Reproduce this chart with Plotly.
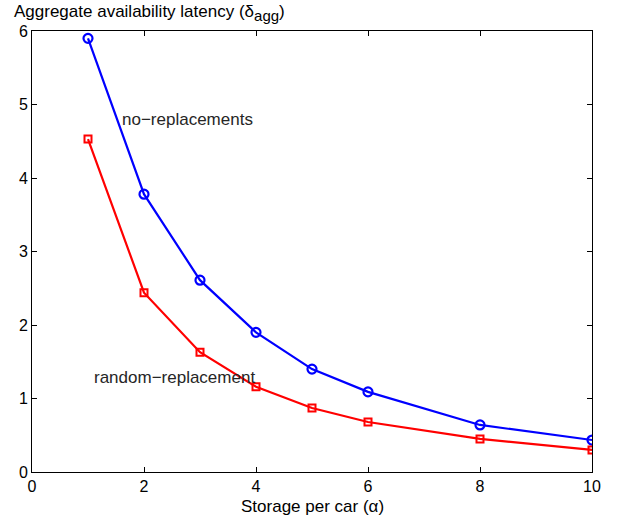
import plotly.graph_objects as go

x_vals = [1, 2, 3, 4, 5, 6, 8, 10]
no_repl = [5.90, 3.78, 2.61, 1.90, 1.40, 1.09, 0.64, 0.435]
random_repl = [4.53, 2.44, 1.63, 1.16, 0.87, 0.68, 0.45, 0.30]
x_ticks = [0, 2, 4, 6, 8, 10]
y_ticks = [0, 1, 2, 3, 4, 5, 6]

font = "Liberation Sans, Arial, Helvetica, sans-serif"

fig = go.Figure()
fig.add_trace(go.Scatter(x=x_vals, y=no_repl, mode="lines+markers",
                         line=dict(color="#0000ff", width=2.2),
                         marker=dict(symbol="circle-open", size=9, color="#0000ff",
                                     line=dict(width=2.2, color="#0000ff")),
                         name="no-replacements", showlegend=False))
fig.add_trace(go.Scatter(x=x_vals, y=random_repl, mode="lines+markers",
                         line=dict(color="#ff0000", width=2.2),
                         marker=dict(symbol="square-open", size=7, color="#ff0000",
                                     line=dict(width=2, color="#ff0000")),
                         name="random-replacement", showlegend=False))

fig.add_annotation(x=1.57, y=4.8, text="no\u2212replacements", showarrow=False,
                   xanchor="left", yanchor="middle", font=dict(size=17, color="#262626", family=font))
fig.add_annotation(x=1.07, y=1.28, text="random\u2212replacement", showarrow=False,
                   xanchor="left", yanchor="middle", font=dict(size=17, color="#262626", family=font))
fig.add_annotation(xref="paper", yref="paper", x=-0.036, y=1.04,
                   text="Aggregate availability latency (\u03b4<sub><span style='font-size:15px'>agg</span></sub>)",
                   showarrow=False,
                   xanchor="left", yanchor="middle", font=dict(size=17, color="black", family=font))
fig.add_annotation(xref="paper", yref="paper", x=0.5, y=-0.078,
                   text="Storage per car (\u03b1)", showarrow=False,
                   xanchor="center", yanchor="middle", font=dict(size=17, color="black", family=font))

axis_common = dict(showgrid=False, zeroline=False, showline=True, linecolor="black", linewidth=1,
                   mirror="ticks", ticks="inside", ticklen=5, tickcolor="black", automargin=False,
                   tickfont=dict(size=16, color="black", family=font))
fig.update_xaxes(range=[0, 10], tickvals=x_ticks, **axis_common)
fig.update_yaxes(range=[0, 6], tickvals=y_ticks, **axis_common)

fig.update_layout(width=623, height=519, margin=dict(l=32, r=31, t=31, b=47),
                  plot_bgcolor="white", paper_bgcolor="white", font=dict(family=font))
fig.write_html("out.html")
